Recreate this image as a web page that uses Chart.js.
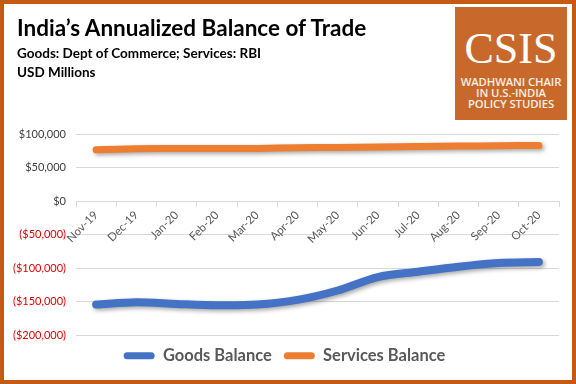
<!DOCTYPE html>
<html>
<head>
<meta charset="utf-8">
<script src="https://cdn.jsdelivr.net/npm/chart.js@4"></script>
<style>
  html,body{margin:0;padding:0;background:#fff;}
  #wrap{position:relative;width:576px;height:384px;background:#fff;overflow:hidden;font-family:Lato,"Open Sans",sans-serif;}
  #c{position:absolute;left:0;top:0;}
  #frame{position:absolute;left:0;top:0;width:576px;height:384px;box-sizing:border-box;border:4px solid #C55A11;pointer-events:none;}
  .t{position:absolute;left:17px;color:#000;font-weight:bold;white-space:nowrap;line-height:1.2;}
  #logo{position:absolute;left:455px;top:7px;width:112px;height:113px;background:#C8692B;color:#fff;text-align:center;}
  #logo .big{font-family:"Liberation Serif","DejaVu Serif",serif;font-size:44px;line-height:44px;margin-top:20px;}
  #logo .small{font-family:"Open Sans",sans-serif;font-size:11.3px;line-height:11px;margin-top:5px;font-weight:600;color:#fbeee4;white-space:nowrap;letter-spacing:-0.1px;}
</style>
</head>
<body>
<div id="wrap">
  <canvas id="c" width="576" height="384"></canvas>
  <div class="t" style="top:14px;font-size:22.5px;">India’s Annualized Balance of Trade</div>
  <div class="t" style="top:44.5px;font-size:13.5px;">Goods: Dept of Commerce; Services: RBI</div>
  <div class="t" style="top:63.5px;font-size:13.5px;">USD Millions</div>
  <div id="logo">
    <div class="big">CSIS</div>
    <div class="small">WADHWANI CHAIR<br>IN U.S.-INDIA<br>POLICY STUDIES</div>
  </div>
  <div id="frame"></div>
</div>
<script>
const categories = ['Nov-19','Dec-19','Jan-20','Feb-20','Mar-20','Apr-20','May-20','Jun-20','Jul-20','Aug-20','Sep-20','Oct-20'];
const goodsBalance = [-154000,-150500,-153000,-155000,-154000,-147000,-133000,-113000,-105000,-97500,-92000,-90500];
const servicesBalance = [76500,78000,78500,78500,78500,79500,80000,80500,81500,82000,82500,83000];
const yTicks = [-200000,-150000,-100000,-50000,0,50000,100000];

function fmt(v){
  const s = '$' + Math.abs(v).toLocaleString('en-US');
  return v < 0 ? '(' + s + ')' : s;
}

const shadowPlugin = {
  id:'shadow',
  beforeDatasetDraw(chart){
    const ctx = chart.ctx;
    ctx.save();
    ctx.shadowColor = 'rgba(0,0,0,0.35)';
    ctx.shadowBlur = 4;
    ctx.shadowOffsetX = 2;
    ctx.shadowOffsetY = 2;
  },
  afterDatasetDraw(chart){
    chart.ctx.restore();
  }
};

new Chart(document.getElementById('c'), {
  type:'line',
  data:{
    labels: categories,
    datasets:[
      {label:'Goods Balance', data: goodsBalance, borderColor:'#4472C4', backgroundColor:'#4472C4', borderWidth:8, pointRadius:0, tension:0.3, borderCapStyle:'round', borderJoinStyle:'round'},
      {label:'Services Balance', data: servicesBalance, borderColor:'#ED7D31', backgroundColor:'#ED7D31', borderWidth:7, pointRadius:0, tension:0.3, borderCapStyle:'round', borderJoinStyle:'round'}
    ]
  },
  options:{
    responsive:false,
    animation:false,
    layout:{padding:{left:10, right:17, top:134, bottom:10}},
    plugins:{
      legend:{
        position:'bottom',
        labels:{
          font:{family:'Lato', size:16.5, weight:'bold'},
          color:'#595959',
          boxWidth:31, boxHeight:7,
          useBorderRadius:true, borderRadius:3.5,
          padding:12,
          generateLabels(chart){
            const items = Chart.defaults.plugins.legend.labels.generateLabels(chart);
            items.forEach(it=>{ it.lineWidth = 0; it.strokeStyle = 'rgba(0,0,0,0)'; });
            return items;
          }
        }
      },
      tooltip:{enabled:false}
    },
    scales:{
      x:{
        position:{y:0},
        offset:true,
        grid:{drawOnChartArea:false, offset:true, tickLength:5, color:'#D9D9D9'},
        border:{color:'#D9D9D9'},
        ticks:{minRotation:45, maxRotation:45, color:'#595959', font:{family:'Lato', size:11.5}, padding:2}
      },
      y:{
        min:-200000, max:100000,
        afterBuildTicks(scale){ scale.ticks = yTicks.map(v=>({value:v})); },
        afterFit(scale){ scale.width = 66; },
        grid:{color:'#D9D9D9', drawTicks:false},
        border:{display:false},
        ticks:{
          callback:(v)=>fmt(v),
          color:(ctx)=> ctx.tick && ctx.tick.value < 0 ? '#E00000' : '#404040',
          font:{family:'Lato', size:11},
          padding:10
        }
      }
    }
  },
  plugins:[shadowPlugin]
});
</script>
</body>
</html>
